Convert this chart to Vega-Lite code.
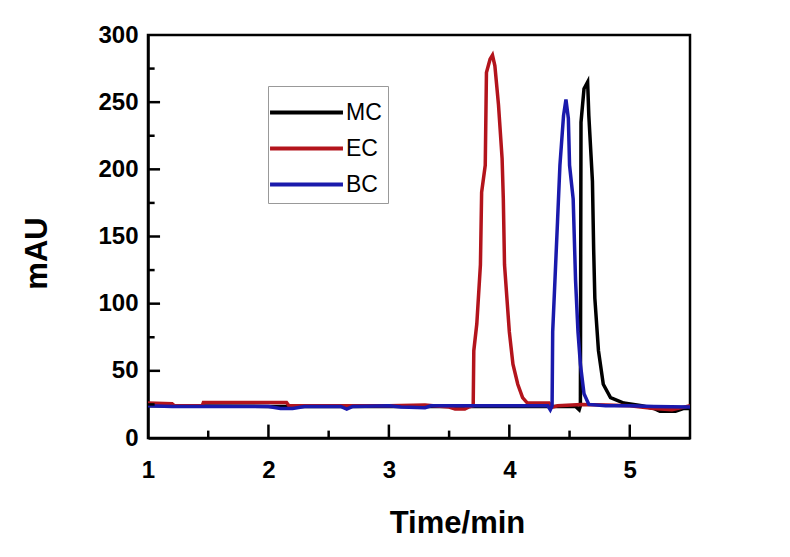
{
  "$schema": "https://vega.github.io/schema/vega-lite/v6.json",
  "autosize": {"type": "none"},
  "width": 542,
  "height": 403,
  "padding": {"left": 148, "top": 35, "right": 100, "bottom": 119},
  "background": "white",
  "config": {
    "view": {"stroke": "black", "strokeWidth": 2.5},
    "font": "Liberation Sans"
  },
  "datasets": {
    "chrom": [
      {"s":"MC","t":1.0,"v":24},{"s":"MC","t":2.0,"v":23.5},{"s":"MC","t":3.0,"v":23.5},{"s":"MC","t":4.0,"v":23.5},{"s":"MC","t":4.55,"v":23.5},{"s":"MC","t":4.58,"v":21},{"s":"MC","t":4.59,"v":24},{"s":"MC","t":4.595,"v":235},{"s":"MC","t":4.62,"v":260},{"s":"MC","t":4.65,"v":265},{"s":"MC","t":4.66,"v":240},{"s":"MC","t":4.69,"v":191},{"s":"MC","t":4.70,"v":141},{"s":"MC","t":4.71,"v":104},{"s":"MC","t":4.74,"v":65},{"s":"MC","t":4.78,"v":40},{"s":"MC","t":4.84,"v":30},{"s":"MC","t":4.95,"v":26},{"s":"MC","t":5.1,"v":24},{"s":"MC","t":5.2,"v":22},{"s":"MC","t":5.25,"v":20},{"s":"MC","t":5.38,"v":20},{"s":"MC","t":5.45,"v":22},{"s":"MC","t":5.5,"v":22},
      {"s":"EC","t":1.0,"v":26},{"s":"EC","t":1.2,"v":25.5},{"s":"EC","t":1.22,"v":24},{"s":"EC","t":1.45,"v":24},{"s":"EC","t":1.46,"v":26.5},{"s":"EC","t":2.15,"v":26.5},{"s":"EC","t":2.17,"v":24},{"s":"EC","t":2.5,"v":24},{"s":"EC","t":3.0,"v":24},{"s":"EC","t":3.3,"v":24.5},{"s":"EC","t":3.5,"v":23},{"s":"EC","t":3.55,"v":21.5},{"s":"EC","t":3.63,"v":21.5},{"s":"EC","t":3.66,"v":23},{"s":"EC","t":3.70,"v":24},{"s":"EC","t":3.705,"v":65},{"s":"EC","t":3.73,"v":85},{"s":"EC","t":3.76,"v":129},{"s":"EC","t":3.77,"v":183},{"s":"EC","t":3.80,"v":203},{"s":"EC","t":3.81,"v":272},{"s":"EC","t":3.84,"v":282},{"s":"EC","t":3.86,"v":285},{"s":"EC","t":3.88,"v":277},{"s":"EC","t":3.91,"v":248},{"s":"EC","t":3.94,"v":208},{"s":"EC","t":3.95,"v":178},{"s":"EC","t":3.96,"v":129},{"s":"EC","t":3.98,"v":104},{"s":"EC","t":4.00,"v":79},{"s":"EC","t":4.03,"v":55},{"s":"EC","t":4.07,"v":40},{"s":"EC","t":4.11,"v":30},{"s":"EC","t":4.15,"v":26},{"s":"EC","t":4.33,"v":26},{"s":"EC","t":4.36,"v":23},{"s":"EC","t":4.4,"v":24},{"s":"EC","t":4.6,"v":25},{"s":"EC","t":4.8,"v":24.5},{"s":"EC","t":5.0,"v":24},{"s":"EC","t":5.2,"v":22},{"s":"EC","t":5.35,"v":21},{"s":"EC","t":5.45,"v":23},{"s":"EC","t":5.5,"v":24},
      {"s":"BC","t":1.0,"v":24},{"s":"BC","t":1.2,"v":23.5},{"s":"BC","t":2.0,"v":23.5},{"s":"BC","t":2.1,"v":22},{"s":"BC","t":2.2,"v":22},{"s":"BC","t":2.3,"v":23.5},{"s":"BC","t":2.6,"v":23.5},{"s":"BC","t":2.65,"v":21.5},{"s":"BC","t":2.7,"v":23.5},{"s":"BC","t":3.0,"v":24},{"s":"BC","t":3.1,"v":23},{"s":"BC","t":3.3,"v":22.5},{"s":"BC","t":3.35,"v":24},{"s":"BC","t":3.6,"v":24},{"s":"BC","t":4.0,"v":24},{"s":"BC","t":4.32,"v":24},{"s":"BC","t":4.34,"v":21},{"s":"BC","t":4.355,"v":24},{"s":"BC","t":4.36,"v":79},{"s":"BC","t":4.38,"v":120},{"s":"BC","t":4.40,"v":161},{"s":"BC","t":4.42,"v":203},{"s":"BC","t":4.45,"v":240},{"s":"BC","t":4.47,"v":252},{"s":"BC","t":4.49,"v":238},{"s":"BC","t":4.50,"v":203},{"s":"BC","t":4.53,"v":178},{"s":"BC","t":4.55,"v":117},{"s":"BC","t":4.57,"v":79},{"s":"BC","t":4.59,"v":55},{"s":"BC","t":4.62,"v":33},{"s":"BC","t":4.66,"v":25},{"s":"BC","t":4.8,"v":24},{"s":"BC","t":5.0,"v":24},{"s":"BC","t":5.2,"v":23.5},{"s":"BC","t":5.5,"v":23}
    ],
    "xmajor": [{"tx": 2}, {"tx": 3}, {"tx": 4}, {"tx": 5}],
    "xminor": [{"tx": 1.5}, {"tx": 2.5}, {"tx": 3.5}, {"tx": 4.5}],
    "ymajor": [{"ty": 50}, {"ty": 100}, {"ty": 150}, {"ty": 200}, {"ty": 250}],
    "yminor": [{"ty": 25}, {"ty": 75}, {"ty": 125}, {"ty": 175}, {"ty": 225}, {"ty": 275}]
  },
  "layer": [
    {
      "data": {"name": "chrom"},
      "mark": {"type": "line", "strokeWidth": 3.5, "clip": true},
      "encoding": {
        "x": {
          "field": "t", "type": "quantitative",
          "scale": {"domain": [1, 5.5], "nice": false, "zero": false},
          "axis": {
            "orient": "bottom", "values": [1, 2, 3, 4, 5], "format": "d", "ticks": false,
            "title": "Time/min", "titleFontSize": 31, "titleFontWeight": "bold", "titleFont": "Liberation Sans", "titleColor": "black",
            "titleX": 309, "titleY": 94, "titleBaseline": "alphabetic", "titleAnchor": null,
            "labelFontSize": 24, "labelFontWeight": "bold", "labelFont": "Liberation Sans", "labelColor": "black",
            "labelPadding": 20,
            "domainColor": "black", "domainWidth": 2.5, "grid": false, "labelFlush": false
          }
        },
        "y": {
          "field": "v", "type": "quantitative",
          "scale": {"domain": [0, 300], "nice": false},
          "axis": {
            "orient": "left", "values": [0, 50, 100, 150, 200, 250, 300], "ticks": false,
            "title": "mAU", "titleFontSize": 31, "titleFontWeight": "bold", "titleFont": "Liberation Sans", "titleColor": "black",
            "titleX": -102, "titleY": 218, "titleBaseline": "alphabetic", "titleAngle": -90, "titleAlign": "center",
            "labelFontSize": 24, "labelFontWeight": "bold", "labelFont": "Liberation Sans", "labelColor": "black",
            "labelPadding": 10,
            "domainColor": "black", "domainWidth": 2.5, "grid": false, "labelFlush": false
          }
        },
        "color": {
          "field": "s", "type": "nominal",
          "scale": {"domain": ["MC", "EC", "BC"], "range": ["#000000", "#b3141c", "#1a1aac"]},
          "legend": {
            "title": null, "orient": "none", "legendX": 120, "legendY": 51,
            "symbolType": "M-2,0H2", "symbolSize": 1330, "symbolStrokeWidth": 4, "symbolOffset": 12,
            "labelFontSize": 23, "labelFont": "Liberation Sans", "labelColor": "black", "labelOffset": 19,
            "strokeColor": "#999999", "padding": 6, "rowPadding": 3
          }
        },
        "order": {"field": "t", "type": "quantitative"}
      }
    },
    {
      "data": {"name": "xmajor"},
      "mark": {"type": "rule", "stroke": "#000000", "strokeWidth": 2.5},
      "encoding": {
        "x": {"field": "tx", "type": "quantitative"},
        "y": {"datum": 0, "type": "quantitative"},
        "y2": {"datum": 10}
      }
    },
    {
      "data": {"name": "xminor"},
      "mark": {"type": "rule", "stroke": "#000000", "strokeWidth": 2.5},
      "encoding": {
        "x": {"field": "tx", "type": "quantitative"},
        "y": {"datum": 0, "type": "quantitative"},
        "y2": {"datum": 5.5}
      }
    },
    {
      "data": {"name": "ymajor"},
      "mark": {"type": "rule", "stroke": "#000000", "strokeWidth": 2.5},
      "encoding": {
        "y": {"field": "ty", "type": "quantitative"},
        "x": {"datum": 1, "type": "quantitative"},
        "x2": {"datum": 1.1}
      }
    },
    {
      "data": {"name": "yminor"},
      "mark": {"type": "rule", "stroke": "#000000", "strokeWidth": 2.5},
      "encoding": {
        "y": {"field": "ty", "type": "quantitative"},
        "x": {"datum": 1, "type": "quantitative"},
        "x2": {"datum": 1.055}
      }
    }
  ]
}
